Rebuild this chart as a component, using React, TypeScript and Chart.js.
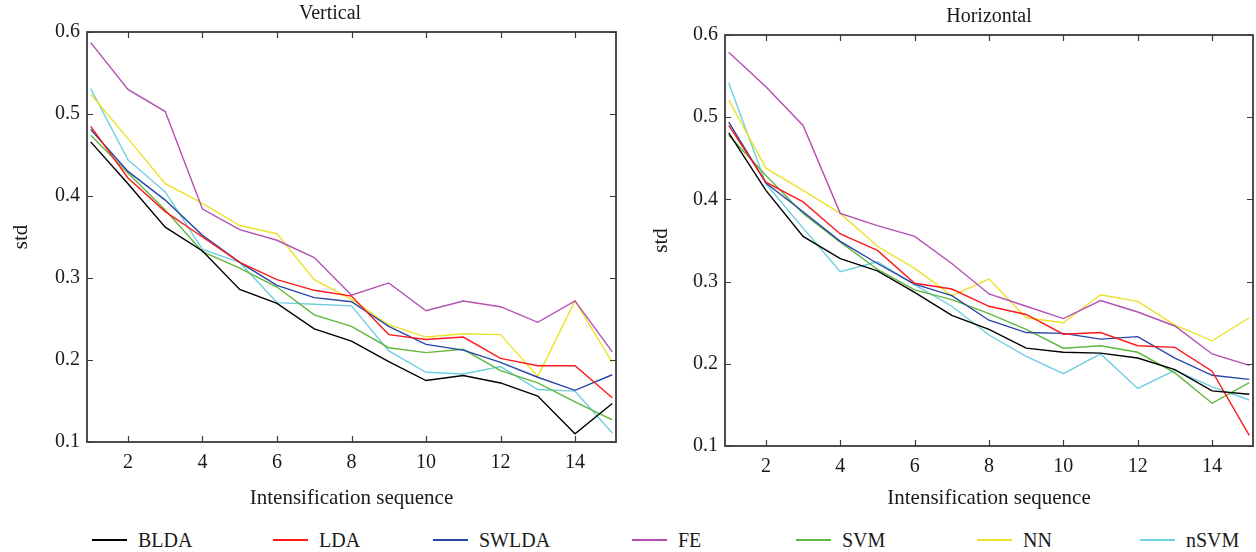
import React, { useEffect, useRef } from 'react';
import { Chart, registerables } from 'chart.js';

Chart.register(...registerables);

// ---- data ----
const sequence = [1, 2, 3, 4, 5, 6, 7, 8, 9, 10, 11, 12, 13, 14, 15];
const xTickValues = [2, 4, 6, 8, 10, 12, 14];
const yTickValues = [0.1, 0.2, 0.3, 0.4, 0.5, 0.6];
const methods = ['BLDA', 'LDA', 'SWLDA', 'FE', 'SVM', 'NN', 'nSVM'];

// Vertical
const vBLDA = [0.466, 0.415, 0.362, 0.333, 0.286, 0.269, 0.238, 0.223, 0.198, 0.175, 0.181, 0.172, 0.156, 0.110, 0.147];
const vLDA = [0.485, 0.422, 0.381, 0.350, 0.319, 0.298, 0.285, 0.278, 0.231, 0.225, 0.228, 0.202, 0.193, 0.193, 0.154];
const vSWLDA = [0.481, 0.430, 0.395, 0.352, 0.319, 0.291, 0.276, 0.271, 0.241, 0.219, 0.212, 0.197, 0.179, 0.163, 0.182];
const vFE = [0.587, 0.530, 0.503, 0.384, 0.359, 0.346, 0.325, 0.279, 0.294, 0.260, 0.272, 0.265, 0.246, 0.272, 0.210];
const vSVM = [0.474, 0.428, 0.383, 0.332, 0.312, 0.289, 0.255, 0.241, 0.215, 0.209, 0.213, 0.187, 0.172, 0.149, 0.127];
const vNN = [0.524, 0.470, 0.415, 0.391, 0.364, 0.354, 0.298, 0.274, 0.243, 0.228, 0.232, 0.231, 0.180, 0.272, 0.197];
const vNSVM = [0.531, 0.444, 0.405, 0.335, 0.319, 0.270, 0.268, 0.266, 0.211, 0.185, 0.183, 0.192, 0.164, 0.162, 0.111];

// Horizontal
const hBLDA = [0.481, 0.411, 0.355, 0.328, 0.313, 0.287, 0.259, 0.242, 0.219, 0.214, 0.213, 0.207, 0.193, 0.167, 0.163];
const hLDA = [0.490, 0.421, 0.397, 0.358, 0.338, 0.298, 0.291, 0.270, 0.260, 0.236, 0.238, 0.222, 0.220, 0.191, 0.113];
const hSWLDA = [0.494, 0.420, 0.385, 0.349, 0.322, 0.297, 0.283, 0.253, 0.238, 0.237, 0.230, 0.233, 0.207, 0.186, 0.181];
const hFE = [0.579, 0.537, 0.490, 0.383, 0.368, 0.355, 0.322, 0.285, 0.270, 0.255, 0.277, 0.263, 0.246, 0.212, 0.198];
const hSVM = [0.478, 0.429, 0.383, 0.348, 0.315, 0.290, 0.278, 0.261, 0.242, 0.219, 0.222, 0.214, 0.189, 0.152, 0.177];
const hNN = [0.521, 0.438, 0.411, 0.383, 0.343, 0.316, 0.283, 0.303, 0.256, 0.250, 0.284, 0.276, 0.247, 0.228, 0.256];
const hNSVM = [0.542, 0.419, 0.365, 0.312, 0.324, 0.296, 0.270, 0.235, 0.209, 0.188, 0.212, 0.170, 0.192, 0.172, 0.156];

const verticalSeries = [vBLDA, vLDA, vSWLDA, vFE, vSVM, vNN, vNSVM];
const horizontalSeries = [hBLDA, hLDA, hSWLDA, hFE, hSVM, hNN, hNSVM];

// ---- styles ----
const colors = ['#000000', '#ff1a1a', '#2a45a8', '#b44fb4', '#5fb83c', '#ece22a', '#6fd0df'];
const FONT = '"Liberation Serif", "Times New Roman", serif';
const TEXT = '#1a1a1a';
const AXIS = '#3a3a3a';

const boxPlugin = {
  id: 'boxTicks',
  afterLayout(chart: any, _args: any, opts: any) {
    if (opts && opts.titleSpan && chart.titleBlock) {
      chart.titleBlock.left = opts.titleSpan[0];
      chart.titleBlock.right = opts.titleSpan[1];
      chart.titleBlock.width = opts.titleSpan[1] - opts.titleSpan[0];
    }
  },
  afterDatasetsDraw(chart: any) {
    const { ctx, chartArea: a, scales } = chart;
    const xs = scales.x;
    const ys = scales.y;
    ctx.save();
    ctx.strokeStyle = AXIS;
    ctx.lineWidth = 1.2;
    ctx.beginPath();
    xTickValues.forEach((v) => {
      const px = Math.round(xs.getPixelForValue(v)) + 0.5;
      ctx.moveTo(px, a.bottom);
      ctx.lineTo(px, a.bottom - 6);
      ctx.moveTo(px, a.top);
      ctx.lineTo(px, a.top + 6);
    });
    yTickValues.forEach((v) => {
      const py = Math.round(ys.getPixelForValue(v)) + 0.5;
      ctx.moveTo(a.left, py);
      ctx.lineTo(a.left + 6, py);
      ctx.moveTo(a.right, py);
      ctx.lineTo(a.right - 6, py);
    });
    ctx.stroke();
    ctx.lineWidth = 1.8;
    ctx.strokeRect(a.left, a.top, a.right - a.left, a.bottom - a.top);
    ctx.restore();
  },
};

type PanelProps = {
  title: string;
  series: number[][];
  left: number;
  width: number;
  height: number;
  padRight: number;
  yWidth: number;
  xHeight: number;
  titleSpan: number[] | null;
  titlePadTop: number;
  titlePadBottom: number;
  yTitlePad: number;
  xTitlePad: number;
};

function Panel(p: PanelProps) {
  const ref = useRef<HTMLCanvasElement | null>(null);
  useEffect(() => {
    if (!ref.current) return;
    const chart = new Chart(ref.current, {
      type: 'line',
      data: {
        datasets: methods.map((m, i) => ({
          label: m,
          data: sequence.map((x, j) => ({ x, y: p.series[i][j] })),
          borderColor: colors[i],
          backgroundColor: colors[i],
          borderWidth: 1.4,
          pointRadius: 0,
          tension: 0,
          fill: false,
        })),
      },
      options: {
        responsive: false,
        animation: false,
        devicePixelRatio: 1,
        layout: { padding: { left: 0, top: 0, right: p.padRight, bottom: 0 } },
        plugins: {
          legend: { display: false },
          tooltip: { enabled: false },
          boxTicks: { titleSpan: p.titleSpan },
          title: {
            display: true,
            text: p.title,
            fullSize: false,
            color: TEXT,
            font: { family: FONT, size: 20, weight: 'normal' },
            padding: { top: p.titlePadTop, bottom: p.titlePadBottom },
          },
        },
        scales: {
          x: {
            type: 'linear',
            min: 0.9,
            max: 15.1,
            grid: { display: false, drawTicks: false },
            border: { display: false },
            afterBuildTicks: (ax: any) => {
              ax.ticks = xTickValues.map((v) => ({ value: v }));
            },
            afterFit: (ax: any) => {
              ax.height = p.xHeight;
            },
            ticks: {
              color: TEXT,
              padding: 9,
              maxRotation: 0,
              autoSkip: false,
              font: { family: FONT, size: 20 },
              callback: (v: any) => String(v),
            },
            title: {
              display: true,
              text: 'Intensification sequence',
              color: TEXT,
              font: { family: FONT, size: 21 },
              padding: { top: 0, bottom: p.xTitlePad },
            },
          },
          y: {
            type: 'linear',
            min: 0.1,
            max: 0.6,
            grid: { display: false, drawTicks: false },
            border: { display: false },
            afterBuildTicks: (ax: any) => {
              ax.ticks = yTickValues.map((v) => ({ value: v }));
            },
            afterFit: (ax: any) => {
              ax.width = p.yWidth;
            },
            ticks: {
              color: TEXT,
              padding: 7,
              autoSkip: false,
              font: { family: FONT, size: 20 },
              callback: (v: any) => Number(v).toFixed(1),
            },
            title: {
              display: true,
              text: 'std',
              color: TEXT,
              font: { family: FONT, size: 21 },
              padding: { top: p.yTitlePad, bottom: 0 },
            },
          },
        },
      },
      plugins: [boxPlugin],
    } as any);
    return () => chart.destroy();
  }, []);
  return (
    <canvas
      ref={ref}
      width={p.width}
      height={p.height}
      style={{ position: 'absolute', left: p.left, top: 0, width: p.width, height: p.height }}
    />
  );
}

const legendLefts = [92, 273, 433, 632, 796, 977, 1140];

function Legend() {
  return (
    <div style={{ position: 'absolute', left: 0, top: 524, width: 1256, height: 32 }}>
      {methods.map((m, i) => (
        <div key={m} style={{ position: 'absolute', left: legendLefts[i], top: 0, height: 32, display: 'flex', alignItems: 'center' }}>
          <div style={{ width: 35, height: 2, background: colors[i] }} />
          <span style={{ marginLeft: 11, fontFamily: FONT, fontSize: 20, color: TEXT, lineHeight: '32px' }}>{m}</span>
        </div>
      ))}
    </div>
  );
}

export default function App() {
  return (
    <div style={{ position: 'fixed', left: 0, top: 0, width: 1256, height: 552, background: '#ffffff', overflow: 'hidden' }}>
      <Panel
        title="Vertical"
        series={verticalSeries}
        left={0}
        width={660}
        height={520}
        padRight={44}
        yWidth={87}
        xHeight={78}
        titleSpan={[44, 616]}
        titlePadTop={2}
        titlePadBottom={6}
        yTitlePad={8.6}
        xTitlePad={9}
      />
      <Panel
        title="Horizontal"
        series={horizontalSeries}
        left={640}
        width={616}
        height={520}
        padRight={3}
        yWidth={85}
        xHeight={74}
        titleSpan={null}
        titlePadTop={5}
        titlePadBottom={6}
        yTitlePad={8.6}
        xTitlePad={9}
      />
      <Legend />
    </div>
  );
}
